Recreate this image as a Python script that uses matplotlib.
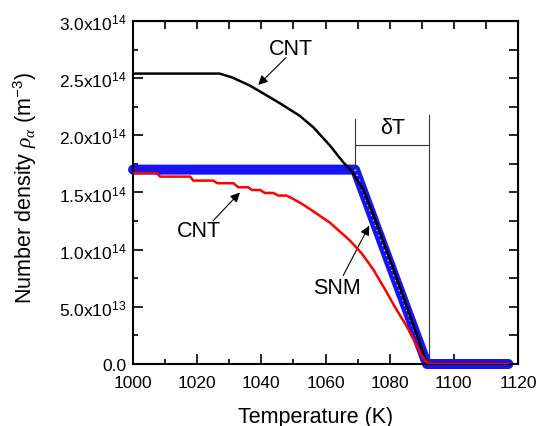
import numpy as np
import matplotlib
matplotlib.use('Agg')
import matplotlib.pyplot as plt
from matplotlib.ticker import MultipleLocator, FuncFormatter

plt.rcParams['font.family'] = ['Liberation Sans', 'DejaVu Sans']
plt.rcParams['mathtext.fontset'] = 'custom'
plt.rcParams['mathtext.rm'] = 'Liberation Sans'
plt.rcParams['mathtext.it'] = 'Liberation Serif:italic'
plt.rcParams['mathtext.default'] = 'regular'

# number densities in units of 1e14 m^-3
# CNT, upper curve
T_cnt1 = [1000, 1027, 1031, 1036.4, 1041, 1045.8, 1052, 1056.2, 1061.4,
          1065.5, 1068.1, 1071.7, 1074.4, 1080, 1085, 1090, 1091.8, 1117]
rho_cnt1 = [2.54, 2.54, 2.505, 2.435, 2.36, 2.28, 2.17, 2.07, 1.91,
            1.765, 1.69, 1.53, 1.34, 0.92, 0.53, 0.13, 0.0, 0.0]

# CNT, lower curve
T_cnt2 = [1000, 1007.4, 1008.4, 1017.8, 1018.8, 1025.0, 1026.3, 1031.3, 1032.8,
          1035.9, 1037.0, 1039.6, 1041.1, 1043.7, 1045.3, 1047.9, 1049.9,
          1052.4, 1055.1, 1061.4, 1067.6, 1071.2, 1074.8, 1078.5, 1081.6,
          1085.3, 1087.9, 1089.9, 1092, 1117]
rho_cnt2 = [1.671, 1.671, 1.639, 1.639, 1.604, 1.604, 1.581, 1.581, 1.546,
            1.546, 1.522, 1.522, 1.496, 1.496, 1.473, 1.473, 1.444,
            1.405, 1.356, 1.235, 1.08, 0.97, 0.83, 0.655, 0.50,
            0.33, 0.19, 0.073, 0.0, 0.0]

# SNM
T_snm = [1000, 1069.2, 1091.6, 1117]
rho_snm = [1.70, 1.70, 0.0, 0.0]

# delta T window
T_lo, T_hi = 1069.2, 1092.3

E = 1e14
fig = plt.figure(figsize=(5.39, 4.27), dpi=100)
ax = fig.add_axes([0.2468, 0.1452, 0.7143, 0.8033])

# SNM symbols: thick blue band with lighter centres on the slope
ax.plot(T_snm, np.array(rho_snm)*E, color='#1414f5', lw=7.2,
        solid_capstyle='round', solid_joinstyle='round', clip_on=False, zorder=2)
ax.plot(T_snm[1:3], np.array(rho_snm[1:3])*E, color='#c0c0ff', lw=1.6,
        dashes=(0.6, 1.8), zorder=2.1)
ax.plot(T_cnt1, np.array(rho_cnt1)*E, color='k', lw=1.8, zorder=3)
ax.plot(T_cnt2, np.array(rho_cnt2)*E, color='#ff0000', lw=1.8, zorder=4)

# delta T bracket
ax.plot([T_lo, T_lo], [1.70*E, 2.14*E], color='#333333', lw=0.8)
ax.plot([T_hi, T_hi], [0, 2.18*E], color='#333333', lw=0.8)
ax.plot([T_lo, T_hi], [1.916*E, 1.916*E], color='#333333', lw=0.8)
ax.text(1080.9, 2.07*E, 'δT', fontsize=15.5, ha='center', va='center')

arw = dict(arrowstyle='-|>', color='k', lw=0.8, mutation_scale=14,
           shrinkA=0, shrinkB=0)
ax.text(1049.1, 2.756*E, 'CNT', fontsize=15.5, ha='center', va='center')
ax.annotate('', xy=(1039.0, 2.44*E), xytext=(1047.7, 2.68*E), arrowprops=arw)
ax.text(1020.6, 1.166*E, 'CNT', fontsize=15.5, ha='center', va='center')
ax.annotate('', xy=(1033.3, 1.50*E), xytext=(1025.0, 1.254*E), arrowprops=arw)
ax.text(1063.5, 0.671*E, 'SNM', fontsize=15.5, ha='center', va='center')
ax.annotate('', xy=(1073.6, 1.21*E), xytext=(1065.5, 0.773*E), arrowprops=arw)

ax.set_xlim(1000, 1120)
ax.set_ylim(0, 3e14)


def sci(v, pos):
    if abs(v) < 1:
        return '0.0'
    if v < 0:
        return ''
    ex = int(np.floor(np.log10(v)))
    return '%.1fx10$^{%d}$' % (v / 10**ex, ex)


ax.xaxis.set_major_locator(MultipleLocator(20))
ax.xaxis.set_minor_locator(MultipleLocator(10))
ax.yaxis.set_major_locator(MultipleLocator(0.5e14))
ax.yaxis.set_minor_locator(MultipleLocator(0.25e14))
ax.yaxis.set_major_formatter(FuncFormatter(sci))
ax.tick_params(which='major', direction='in', length=7, width=1.2,
               labelsize=12.5)
ax.tick_params(which='minor', direction='in', length=3.5, width=1.2)
ax.tick_params(axis='x', pad=8)
ax.tick_params(axis='y', pad=5)
for s in ax.spines.values():
    s.set_linewidth(1.5)

# ticks on top and right, no labels
top = ax.secondary_xaxis('top')
top.set_xticks(np.arange(1000, 1121, 10))
top.tick_params(direction='in', length=5.8, width=1.2, labeltop=False)
right = ax.secondary_yaxis('right')
right.set_yticks(np.arange(0, 3.01e14, 0.25e14))
right.tick_params(direction='in', length=6.5, width=1.2, labelright=False)

fig.text(316/539, 1-418/427, 'Temperature (K)', fontsize=15.5,
         ha='center', va='center')
fig.text(25/539, 1-187.5/427,
         r'Number density $\mathit{\rho}_{\mathit{\alpha}}$ (m$^{-3}$)',
         fontsize=15.5, rotation=90, ha='center', va='center')

fig.savefig('out.png', dpi=100)
